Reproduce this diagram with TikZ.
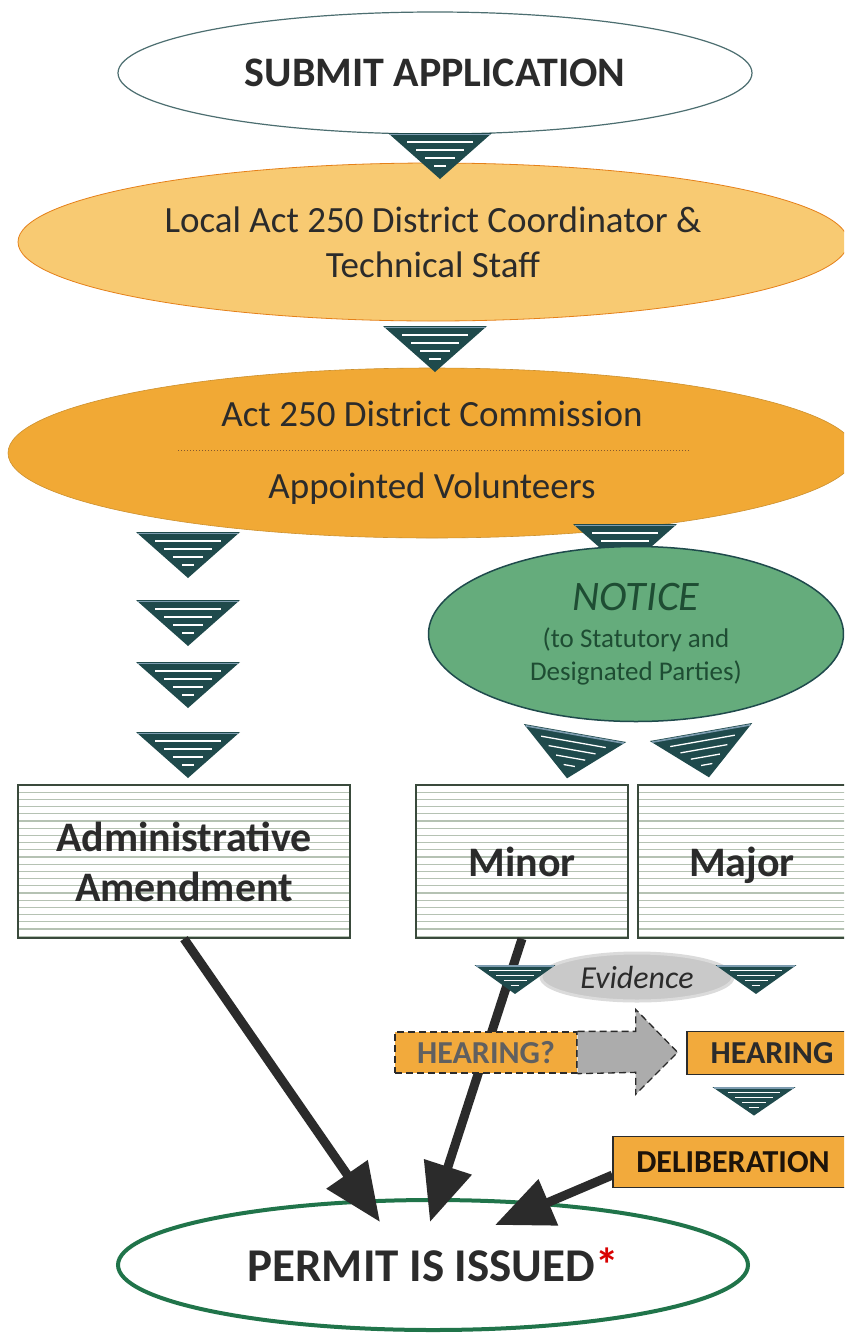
\documentclass[tikz,border=0pt]{standalone}
\usepackage{fontspec}
\setmainfont{Carlito}
\usepackage{tikz}
\usetikzlibrary{calc}
\usetikzlibrary{arrows.meta,shapes.geometric}

\definecolor{tealdk}{HTML}{1F4A4C}
\definecolor{tealtop}{HTML}{7D9CB0}
\definecolor{lightorange}{HTML}{F8CA72}
\definecolor{midorange}{HTML}{F1A935}
\definecolor{boxorange}{HTML}{F2AA3C}
\definecolor{noticegreen}{HTML}{65AC7C}
\definecolor{darkgreen}{HTML}{1E4D33}
\definecolor{permitgreen}{HTML}{20744A}
\definecolor{inkgray}{HTML}{2B2B2B}
\definecolor{stripegray}{HTML}{B5C2B3}
\definecolor{boxline}{HTML}{3A4A3C}

\tikzset{
  downtri/.pic={
    \fill[tealdk] (-52,0) -- (52,0) -- (0,46) -- cycle;
    \draw[tealtop, line width=1.6pt] (-50,1.5) -- (50,1.5);
    \foreach \d in {9,17,25,33}
      \draw[white, line width=1.3pt] ({-52*(1-\d/46)+9},\d) -- ({52*(1-\d/46)-9},\d);
  },
  stripebox/.style={draw=boxline, line width=1.4pt, fill=white, text=inkgray, text depth=0pt,
    font=\bfseries\fontsize{42}{50}\selectfont,
    path picture={\foreach \k in {1,...,21}
      \draw[stripegray, line width=1.2pt] ([yshift=-\k*7.2pt]path picture bounding box.north west) -- ++(400pt,0);}},
  orangebox/.style={draw=inkgray, line width=1.3pt, fill=boxorange, font=\bfseries\fontsize{32}{36}\selectfont},
  longdash/.style={dash pattern=on 7pt off 4pt},
  bigarrow/.style={inkgray, line width=9pt, -{Triangle[length=58pt,width=48pt]}},
}

\begin{document}
\begin{tikzpicture}[x=1pt,y=-1pt]
    \clip (0,0) rectangle (844,1334);
    \fill[white] (0,0) rectangle (844,1334);

    \node[ellipse, draw=tealdk!80, line width=1.2pt, fill=white, minimum width=634pt, minimum height=122pt, font=\bfseries\fontsize{42}{48}\selectfont, text=inkgray] (submit) at (435,73) {SUBMIT APPLICATION};
    \node[ellipse, draw=orange!60!brown, line width=.8pt, fill=lightorange, minimum width=830pt, minimum height=158pt, align=center, font=\fontsize{37}{45}\selectfont, text=inkgray] (coord) at (433,242) {Local Act 250 District Coordinator \&\\Technical Staff};
    \node[ellipse, draw=midorange!85!black, line width=.6pt, fill=midorange, minimum width=848pt, minimum height=170pt, align=center, font=\fontsize{37}{72}\selectfont, text=inkgray] (comm) at (432,453) {Act 250 District Commission\\Appointed Volunteers};
    \draw[dotted, line width=1pt, brown!70!black] ($(comm.center)+(-254,-3)$) -- ++(512,0);

    \pic at (440,133) {downtri};
    \pic at (435,326) {downtri};
    \foreach \y in {532,600,662,732}
      \pic at (188,\y) {downtri};
    \pic at (625,524) {downtri};

    \node[ellipse, draw=tealdk, line width=1.5pt, fill=noticegreen, minimum width=415pt, minimum height=175pt, align=center, font=\fontsize{27}{33}\selectfont, text=darkgreen] (notice) at (636,634) {{\itshape\fontsize{42}{46}\selectfont NOTICE}\\[4pt](to Statutory and\\Designated Parties)};
    \pic[rotate=-10] at (575,733) {downtri};
    \pic[rotate=10] at (701,732) {downtri};

    \node[stripebox, minimum width=332pt, minimum height=153pt, align=center] (admin) at (184,861.5) {Administrative\\Amendment};
    \node[stripebox, minimum width=212pt, minimum height=153pt] (minor) at (522,861.5) {Minor};
    \node[stripebox, minimum width=208pt, minimum height=153pt] (major) at (742,861.5) {Major};

    \node[ellipse, draw=permitgreen, line width=4pt, fill=white, minimum width=630pt, minimum height=130pt, font=\bfseries\fontsize{47}{52}\selectfont, text=inkgray] (permit) at (433,1265) {PERMIT IS ISSUED\textcolor{red!85!black}{*}};
    \node[orangebox, minimum width=240pt, minimum height=51pt, text=black!85!brown] (delib) at (733,1162) {DELIBERATION};

    \draw[bigarrow] (admin.south) -- ($(permit.center)+(-53,-43)$);
    \draw[bigarrow] (minor.south) -- ($(permit.center)+(-3,-43)$);
    \draw[bigarrow] ($(delib.west)!.5!(delib.south west)$) -- ($(permit.center)+(62,-40)$);

    \node[ellipse, fill=gray!42, draw=gray!28, line width=3pt, minimum width=192pt, minimum height=48pt, font=\itshape\fontsize{32}{36}\selectfont, text=inkgray] (evid) at (637,977) {Evidence};
    \pic[xscale=.78, yscale=.63] at (515,965) {downtri};
    \pic[xscale=.78, yscale=.63] at (756,965) {downtri};

    \node[orangebox, longdash, minimum width=182pt, minimum height=41pt, text=gray!75!black] (hq) at (486,1052.5) {HEARING?};
    \draw[longdash, line width=1.3pt, draw=inkgray, fill=gray!65] (hq.north east) -- ++(58,0) -- ++(0,-22) -- ++(42,43) -- ++(-42,42) -- ++(0,-22) -- (hq.south east);
    \node[orangebox, minimum width=170pt, minimum height=43pt, text=inkgray] (hear) at (772,1053) {HEARING};
    \pic[xscale=.8, yscale=.62] at (754,1087) {downtri};
\end{tikzpicture}
\end{document}
